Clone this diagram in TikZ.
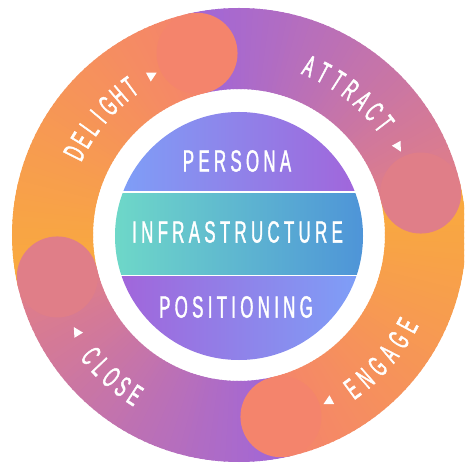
\documentclass[tikz,border=0pt]{standalone}
\usepackage{fontspec}
\newfontfamily\cfont[FakeStretch=0.55,FakeBold=1.2,LetterSpace=14]{Liberation Sans}
\newfontfamily\rfont[FakeStretch=0.5,FakeBold=1.6]{Liberation Sans}
\definecolor{cpurple}{HTML}{A066D8}
\definecolor{cpink}{HTML}{E07E88}
\definecolor{cyell}{HTML}{F9AB3D}
\definecolor{csalm}{HTML}{F4846C}
\definecolor{pblue}{HTML}{7DA0F8}
\definecolor{ppurp}{HTML}{A264DA}
\definecolor{iteal}{HTML}{6ED8C8}
\definecolor{iblue}{HTML}{4E94D8}
\tikzset{
  ctxt/.style={text=white,font=\fontsize{30.7}{31}\cfont,inner sep=0pt},
  rtxt/.style={text=white,font=\fontsize{30}{30}\rfont,inner sep=0pt},
  tri/.style={fill=white}
}
\begin{document}
\begin{tikzpicture}[x=1pt,y=1pt]
\fill[white] (-239,-230) rectangle (225,235);
\useasboundingbox (-239,-230) rectangle (225,235);
\clip (-239,-230) rectangle (225,235);
% ring bands (angular gradients)
\foreach \s/\ca/\cb in {103/cpurple/cpink, 13/cyell/csalm, -77/cpurple/cpink, -167/cyell/csalm} {
  \foreach \i in {0,...,59} {
    \pgfmathsetmacro\a{\s-1.5*\i}
    \pgfmathsetmacro\b{\a-2}
    \pgfmathtruncatemacro\p{round(100*\i/59)}
    \fill[\cb!\p!\ca] (\a:146) arc[start angle=\a, end angle=\b, radius=146]
      -- (\b:227) arc[start angle=\b, end angle=\a, radius=227] -- cycle;
  }
}
% rounded caps
\foreach \e/\c in {13/cpink, -77/csalm, -167/cpink, 103/csalm}
  \fill[\c] (\e:186.5) circle[radius=40.5];
% centre disc
\begin{scope}
  \clip (0,-1) circle[radius=124];
  \shade[left color=pblue, right color=ppurp] (-125,44.3) rectangle (125,125);
  \shade[left color=iteal, right color=iblue] (-125,-39.5) rectangle (125,41.8);
  \shade[left color=ppurp, right color=pblue] (-125,-127) rectangle (125,-42);
\end{scope}
\node[ctxt] (persona) at (-2,74) {PERSONA};
\node[ctxt] (infra) at (-1.5,3) {INFRASTRUCTURE};
\node[ctxt] (posit) at (-3,-72) {POSITIONING};
% ring texts: clockwise, tops outward
\foreach \L [count=\i from 0] in {A,T,T,R,A,C,T}
  \node[rtxt, rotate={67.4-5*\i-90}] (att\i) at ({67.4-5*\i}:183) {\L};
\foreach \L [count=\i from 0] in {D,E,L,I,G,H,T}
  \node[rtxt, rotate={153.5-4.53*\i-90}] (del\i) at ({153.5-4.53*\i}:184) {\L};
% ring texts: counterclockwise, tops inward
\foreach \L [count=\i from 0] in {E,N,G,A,G,E}
  \node[rtxt, rotate={-53.7+5.1*\i+90}] (eng\i) at ({-53.7+5.1*\i}:191) {\L};
\foreach \L [count=\i from 0] in {C,L,O,S,E}
  \node[rtxt, rotate={219.2+4.45*\i+90}] (clo\i) at ({219.2+4.45*\i}:191) {\L};
% triangles pointing clockwise
\foreach \t/\r in {29/182, 118.6/182, -61.8/189, 210.8/189}
  \fill[tri, shift={(\t:\r)}, rotate=\t-90] (5.5,0) -- (-4,5) -- (-4,-5) -- cycle;
\end{tikzpicture}
\end{document}
